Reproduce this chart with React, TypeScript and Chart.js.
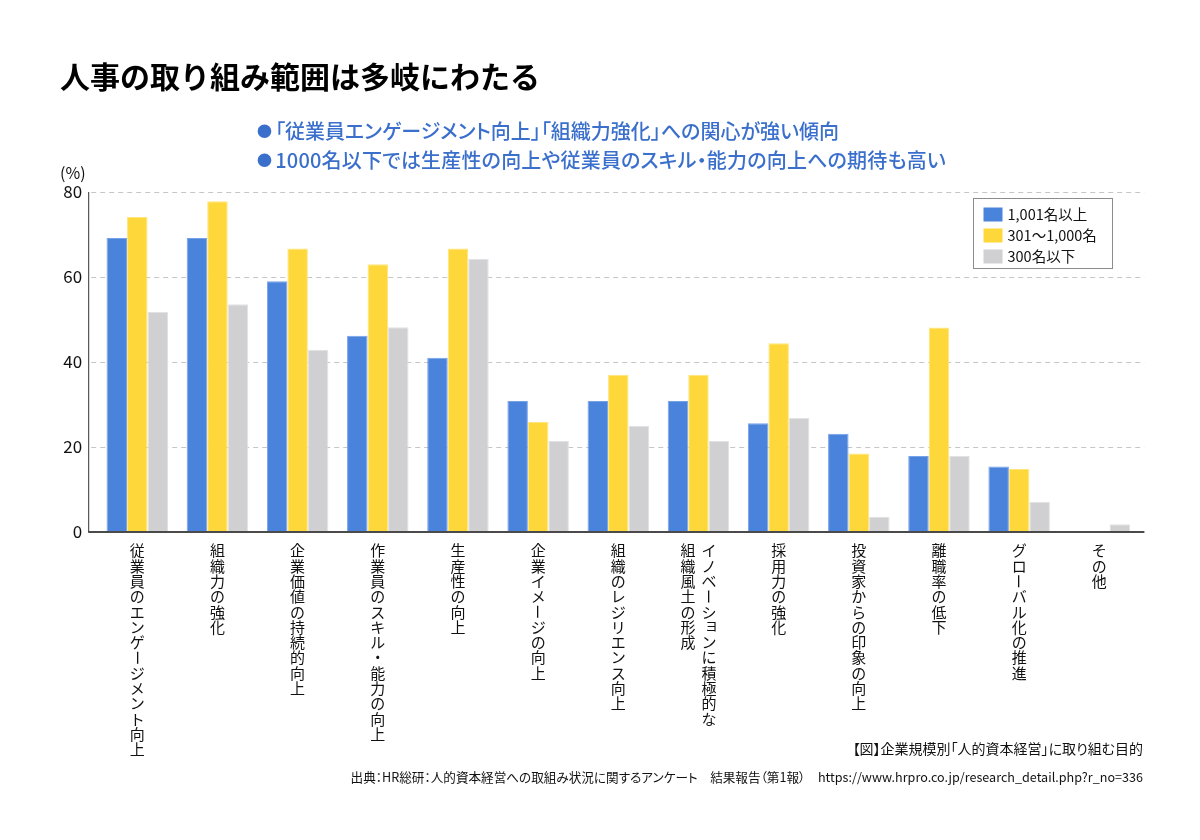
import React, { useEffect, useRef } from "react";
import { Chart, registerables } from "chart.js";

Chart.register(...registerables);

// Category labels, written as vertical columns (right column first)
const categories: string[][] = [
  ["従業員のエンゲージメント向上"],
  ["組織力の強化"],
  ["企業価値の持続的向上"],
  ["作業員のスキル・能力の向上"],
  ["生産性の向上"],
  ["企業イメージの向上"],
  ["組織のレジリエンス向上"],
  ["イノベーションに積極的な", "組織風土の形成"],
  ["採用力の強化"],
  ["投資家からの印象の向上"],
  ["離職率の低下"],
  ["グローバル化の推進"],
  ["その他"],
];

const seriesNames = ["1,001名以上", "301～1,000名", "300名以下"];

// Share of companies (%) by company size
const largeCompanies = [69.2, 69.2, 59.0, 46.2, 41.0, 30.8, 30.8, 30.8, 25.6, 23.1, 17.9, 15.4, 0];
const midCompanies = [74.1, 77.8, 66.7, 63.0, 66.7, 25.9, 37.0, 37.0, 44.4, 18.5, 48.1, 14.8, 0];
const smallCompanies = [51.8, 53.6, 42.9, 48.2, 64.3, 21.4, 25.0, 21.4, 26.8, 3.6, 17.9, 7.1, 1.8];

const yTicks = [0, 20, 40, 60, 80];

const FONT = '"Noto Sans CJK JP", "Noto Sans", sans-serif';
const fills = ["#4a83dc", "#fed83a", "#d0d0d2"];
const edges = ["#76a2e8", "#ffe57e", "#e2e2e4"];

const gridPlugin = {
  id: "dashedGrid",
  beforeDatasetsDraw(chart: any) {
    const { ctx, chartArea } = chart;
    const y = chart.scales.y;
    ctx.save();
    ctx.strokeStyle = "#c6c6c6";
    ctx.lineWidth = 1.2;
    ctx.setLineDash([5, 4]);
    yTicks.forEach((v) => {
      if (v === 0) return;
      const py = Math.round(y.getPixelForValue(v)) + 0.5;
      ctx.beginPath();
      ctx.moveTo(chartArea.left - 6, py);
      ctx.lineTo(chartArea.right + 5, py);
      ctx.stroke();
    });
    ctx.restore();
  },
};

const axisPlugin = {
  id: "axisLines",
  afterDatasetsDraw(chart: any) {
    const { ctx, chartArea } = chart;
    const ax = chartArea.left - 8.5;
    ctx.save();
    ctx.strokeStyle = "#333";
    ctx.lineWidth = 1;
    ctx.beginPath();
    ctx.moveTo(ax, chartArea.top);
    ctx.lineTo(ax, chartArea.bottom);
    ctx.stroke();
    ctx.strokeStyle = "#4a4a4a";
    ctx.lineWidth = 2;
    ctx.beginPath();
    ctx.moveTo(ax - 0.5, chartArea.bottom);
    ctx.lineTo(chartArea.right + 5, chartArea.bottom);
    ctx.stroke();
    ctx.restore();
  },
};

const SMALL_KANA = "ャュョッァィゥェォ";

const verticalLabelPlugin = {
  id: "verticalLabels",
  afterDraw(chart: any) {
    const { ctx, chartArea } = chart;
    const x = chart.scales.x;
    const step = 15.3;
    ctx.save();
    ctx.fillStyle = "#111";
    ctx.font = `15px ${FONT}`;
    ctx.textAlign = "center";
    ctx.textBaseline = "middle";
    categories.forEach((cols, i) => {
      const cx = x.getPixelForValue(i);
      const n = cols.length;
      cols.forEach((col, c) => {
        const colX = cx + ((n - 1) / 2 - c) * 21;
        Array.from(col).forEach((ch, k) => {
          const cy = chartArea.bottom + 11 + k * step + step / 2;
          if (ch === "ー") {
            ctx.save();
            ctx.translate(colX, cy);
            ctx.rotate(Math.PI / 2);
            ctx.fillText(ch, 0, 0);
            ctx.restore();
          } else if (SMALL_KANA.includes(ch)) {
            ctx.fillText(ch, colX + 2.5, cy - 2.5);
          } else {
            ctx.fillText(ch, colX, cy);
          }
        });
      });
    });
    ctx.restore();
  },
};

const legendPlugin = {
  id: "boxedLegend",
  afterDraw(chart: any) {
    const { ctx, chartArea } = chart;
    const w = 139;
    const h = 70;
    const bx = Math.round(chartArea.right - 27 - w) + 0.5;
    const by = Math.round(chartArea.top + 6) + 0.5;
    ctx.save();
    ctx.fillStyle = "#fff";
    ctx.fillRect(bx, by, w, h);
    ctx.strokeStyle = "#8c8c8c";
    ctx.lineWidth = 1;
    ctx.strokeRect(bx, by, w, h);
    ctx.font = `14.5px ${FONT}`;
    ctx.textBaseline = "middle";
    ctx.textAlign = "left";
    chart.data.datasets.forEach((ds: any, i: number) => {
      const ry = by + 16 + i * 21;
      ctx.fillStyle = ds.backgroundColor;
      ctx.fillRect(bx + 10, ry - 7, 19, 14);
      ctx.fillStyle = "#111";
      ctx.fillText(ds.label, bx + 34, ry);
    });
    ctx.restore();
  },
};

function BarChart() {
  const ref = useRef<HTMLCanvasElement | null>(null);
  useEffect(() => {
    if (!ref.current) return;
    const series = [largeCompanies, midCompanies, smallCompanies];
    const chart = new Chart(ref.current, {
      type: "bar",
      data: {
        labels: categories,
        datasets: series.map((values, i) => ({
          label: seriesNames[i],
          data: values,
          backgroundColor: fills[i],
          borderColor: edges[i],
          borderWidth: { top: 1, left: 1, right: 1, bottom: 0 },
          categoryPercentage: 0.767,
          barPercentage: 1,
        })),
      },
      options: {
        responsive: false,
        animation: false,
        devicePixelRatio: 1,
        layout: { padding: { top: 192, bottom: 308, left: 0, right: 60.6 } },
        plugins: { legend: { display: false }, tooltip: { enabled: false } },
        scales: {
          x: { display: false },
          y: {
            min: 0,
            max: 80,
            afterFit(scale: any) {
              scale.width = 97.2;
            },
            afterBuildTicks(scale: any) {
              scale.ticks = yTicks.map((v) => ({ value: v }));
            },
            grid: { display: false, drawTicks: false },
            border: { display: false },
            ticks: {
              padding: 15,
              color: "#111",
              font: { family: FONT, size: 17 },
            },
          },
        },
      },
      plugins: [gridPlugin, axisPlugin, verticalLabelPlugin, legendPlugin],
    });
    return () => chart.destroy();
  }, []);
  return (
    <canvas
      ref={ref}
      width={1200}
      height={840}
      style={{ position: "absolute", left: 0, top: 0, width: 1200, height: 840 }}
    />
  );
}

const text = (extra: React.CSSProperties): React.CSSProperties => ({
  position: "absolute",
  fontFamily: FONT,
  whiteSpace: "nowrap",
  margin: 0,
  fontFeatureSettings: '"palt"',
  ...extra,
});

const bullet: React.CSSProperties = { fontSize: 15, marginRight: 3, verticalAlign: "2px" };

export default function App() {
  return (
    <div
      style={{
        position: "fixed",
        left: 0,
        top: 0,
        width: 1200,
        height: 840,
        background: "#fff",
        overflow: "hidden",
      }}
    >
      <BarChart />
      <div style={text({ left: 60, top: 59, fontSize: 30, lineHeight: "32px", fontWeight: 700, color: "#000", fontFeatureSettings: "normal" })}>
        人事の取り組み範囲は多岐にわたる
      </div>
      <div style={text({ left: 257, top: 120, fontSize: 20, lineHeight: "22px", fontWeight: 500, color: "#3b6fcc" })}>
        <span style={bullet}>●</span>「従業員エンゲージメント向上」「組織力強化」への関心が強い傾向
      </div>
      <div style={text({ left: 257, top: 149, fontSize: 20, lineHeight: "22px", fontWeight: 500, color: "#3b6fcc", letterSpacing: "0.2px" })}>
        <span style={bullet}>●</span>1000名以下では生産性の向上や従業員のスキル・能力の向上への期待も高い
      </div>
      <div style={text({ left: 60, top: 162, fontSize: 16, lineHeight: "20px", color: "#111" })}>(%)</div>
      <div style={text({ right: 57, top: 739, fontSize: 14, lineHeight: "18px", color: "#111" })}>
        【図】企業規模別「人的資本経営」に取り組む目的
      </div>
      <div style={text({ right: 57, top: 769, fontSize: 12.6, lineHeight: "16px", color: "#111" })}>
        出典：HR総研：人的資本経営への取組み状況に関するアンケート　結果報告（第1報）　https://www.hrpro.co.jp/research_detail.php?r_no=336
      </div>
    </div>
  );
}
